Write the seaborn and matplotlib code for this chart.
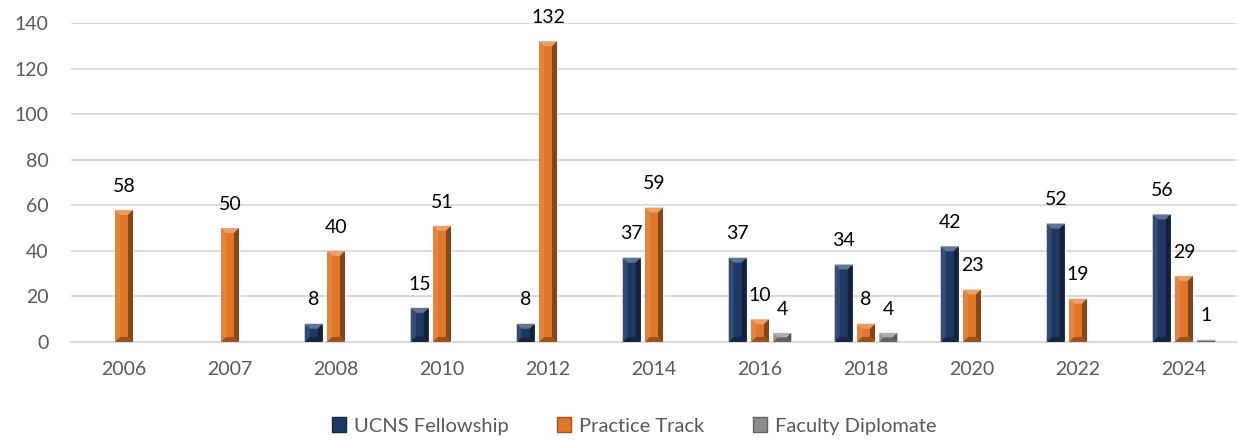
import numpy as np
import pandas as pd
import matplotlib
matplotlib.use("Agg")
import matplotlib.pyplot as plt
import matplotlib.colors as mcolors
from matplotlib.patches import Polygon, Patch
import seaborn as sns

years = ["2006", "2007", "2008", "2010", "2012", "2014", "2016", "2018", "2020", "2022", "2024"]
ucns = [np.nan, np.nan, 8, 15, 8, 37, 37, 34, 42, 52, 56]
practice = [58, 50, 40, 51, 132, 59, 10, 8, 23, 19, 29]
faculty = [np.nan, np.nan, np.nan, np.nan, np.nan, np.nan, 4, 4, np.nan, np.nan, 1]
series = ["UCNS Fellowship", "Practice Track", "Faculty Diplomate"]
colors = ["#1f3864", "#e07628", "#8c8c8c"]

rows = []
for s, vals in zip(series, [ucns, practice, faculty]):
    for y, v in zip(years, vals):
        if not np.isnan(v):
            rows.append({"Year": y, "Series": s, "Value": v})
df = pd.DataFrame(rows)

sns.set_theme(style="white")
plt.rcParams["font.family"] = ["Lato", "DejaVu Sans"]

fig = plt.figure(figsize=(12.38, 4.42), dpi=100)
ax = fig.add_axes([71 / 1238, 1 - 342 / 442, (1237 - 71) / 1238, (342 - 23) / 442])

sns.barplot(data=df, x="Year", y="Value", hue="Series", order=years, hue_order=series,
            palette=colors, width=0.63, gap=0.19, ax=ax, legend=False,
            saturation=1, errorbar=None)

ax.set_ylim(0, 140)
ax.set_xlim(-0.5, len(years) - 0.5)
ax.set_yticks(np.arange(0, 141, 20))
ax.yaxis.grid(True, color="#d9d9d9", linewidth=1.3)
ax.set_axisbelow(True)
for sp in ["left", "right", "top"]:
    ax.spines[sp].set_visible(False)
ax.spines["bottom"].set_color("#d9d9d9")
ax.spines["bottom"].set_linewidth(1.3)
ax.tick_params(axis="y", length=0, pad=16, labelsize=14, labelcolor="#595959")
ax.tick_params(axis="x", length=0, pad=14, labelsize=14, labelcolor="#595959")
ax.set_xlabel("")
ax.set_ylabel("")

# labels
for cont in ax.containers:
    ax.bar_label(cont, fmt="%.0f", padding=11, fontsize=14, color="black")

# bevel effect derived from each drawn bar
fig.canvas.draw()
def mix(c, other, t):
    c = np.array(mcolors.to_rgb(c)); o = np.array(mcolors.to_rgb(other))
    return tuple(c * (1 - t) + o * t)

for cont, col in zip(ax.containers, colors):
    for p in cont.patches:
        h = p.get_height()
        if not np.isfinite(h) or h <= 0:
            continue
        x0, y0 = p.get_x(), p.get_y()
        (px0, py0), (px1, py1) = ax.transData.transform([(x0, y0), (x0 + p.get_width(), y0 + h)])
        w = px1 - px0; hh = py1 - py0
        b = min(5.0, w / 3, hh / 2)
        facets = [
            ([(px0, py1), (px1, py1), (px1 - b, py1 - b), (px0 + b, py1 - b)], mix(col, "white", 0.3)),
            ([(px0, py0), (px0, py1), (px0 + b, py1 - b), (px0 + b, py0 + b)], mix(col, "white", 0.1)),
            ([(px1, py0), (px1, py1), (px1 - b, py1 - b), (px1 - b, py0 + b)], mix(col, "black", 0.4)),
            ([(px0, py0), (px1, py0), (px1 - b, py0 + b), (px0 + b, py0 + b)], mix(col, "black", 0.3)),
        ]
        for pts, fc in facets:
            poly = Polygon(pts, closed=True, facecolor=fc, edgecolor="none",
                           transform=None, zorder=p.get_zorder() + 0.1)
            fig.add_artist(poly)

handles = [Patch(facecolor=c, edgecolor=mix(c, "black", 0.3), label=s) for s, c in zip(series, colors)]
fig.legend(handles=handles, loc="center", bbox_to_anchor=(634 / 1238, 1 - 426 / 442),
           ncol=3, frameon=False, fontsize=14.5, labelcolor="#595959",
           handlelength=0.7, handleheight=0.7, handletextpad=0.4, columnspacing=2.4)

fig.savefig("out.png", dpi=100)
